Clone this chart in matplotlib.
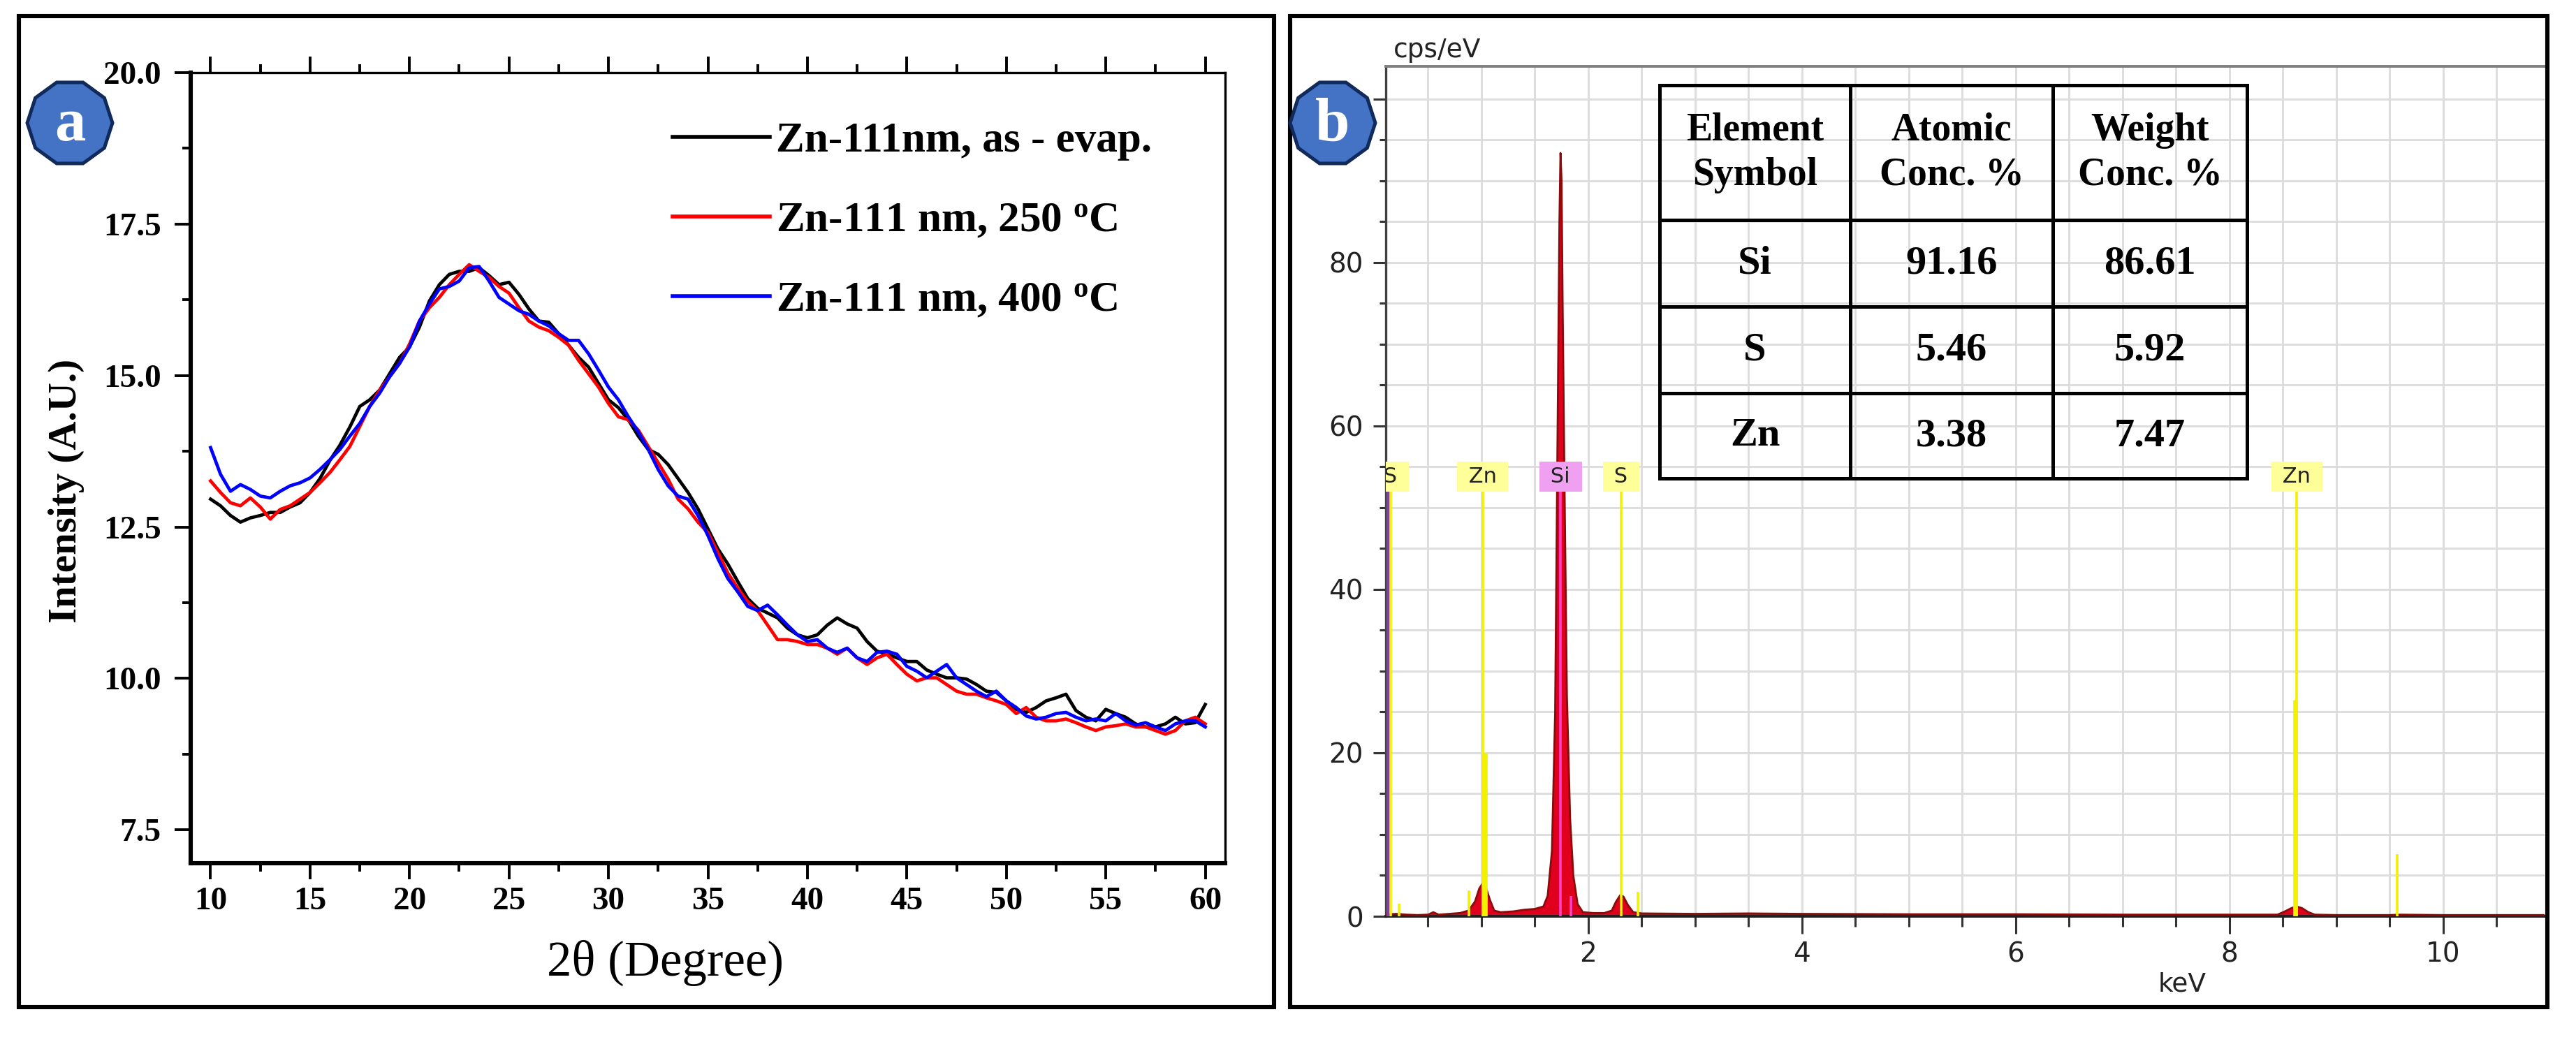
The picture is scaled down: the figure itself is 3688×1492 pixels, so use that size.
import numpy as np
import matplotlib
matplotlib.use("Agg")
import matplotlib.pyplot as plt
from matplotlib.patches import Rectangle, RegularPolygon
from matplotlib.ticker import MultipleLocator

plt.rcParams.update({
    "font.family": "Liberation Serif",
    "mathtext.fontset": "custom",
    "mathtext.rm": "Liberation Serif:bold",
    "mathtext.it": "Liberation Serif:bold",
})

W, H = 3688, 1492

# ── panel a: XRD, values read every 0.5 degree ─────────────────────────────
theta = np.arange(10.0, 60.01, 0.5)

xrd_asevap = [12.96, 12.85, 12.69, 12.58, 12.65, 12.69, 12.74, 12.74, 12.83, 12.90,
              13.07, 13.30, 13.60, 13.85, 14.15, 14.49, 14.60, 14.76, 15.03, 15.30,
              15.47, 15.80, 16.23, 16.50, 16.67, 16.72, 16.72, 16.78, 16.65, 16.50,
              16.54, 16.34, 16.10, 15.90, 15.88, 15.69, 15.50, 15.30, 15.14, 14.87,
              14.60, 14.47, 14.27, 14.00, 13.78, 13.70, 13.53, 13.30, 13.07, 12.80,
              12.47, 12.14, 11.89, 11.60, 11.32, 11.16, 11.08, 11.00, 10.83, 10.72,
              10.67, 10.72, 10.88, 11.00, 10.90, 10.83, 10.61, 10.45, 10.40, 10.34,
              10.28, 10.28, 10.14, 10.07, 10.01, 10.01, 9.99, 9.90, 9.79, 9.77,
              9.63, 9.49, 9.44, 9.52, 9.63, 9.68, 9.74, 9.47, 9.36, 9.30,
              9.49, 9.42, 9.36, 9.25, 9.20, 9.20, 9.25, 9.36, 9.25, 9.27,
              9.57]
xrd_250 = [13.26, 13.07, 12.90, 12.85, 12.98, 12.83, 12.63, 12.79, 12.85, 12.96,
           13.07, 13.23, 13.40, 13.61, 13.83, 14.16, 14.49, 14.76, 14.98, 15.20,
           15.52, 15.90, 16.12, 16.29, 16.50, 16.67, 16.83, 16.72, 16.62, 16.47,
           16.36, 16.12, 15.90, 15.80, 15.74, 15.63, 15.50, 15.25, 15.03, 14.81,
           14.54, 14.32, 14.27, 14.10, 13.83, 13.56, 13.29, 12.96, 12.80, 12.58,
           12.41, 12.08, 11.74, 11.49, 11.27, 11.12, 10.88, 10.64, 10.64, 10.61,
           10.56, 10.56, 10.50, 10.40, 10.50, 10.34, 10.23, 10.34, 10.40, 10.23,
           10.07, 9.96, 10.01, 10.01, 9.90, 9.79, 9.74, 9.74, 9.68, 9.63,
           9.57, 9.42, 9.52, 9.36, 9.30, 9.30, 9.33, 9.27, 9.20, 9.14,
           9.20, 9.22, 9.25, 9.20, 9.20, 9.14, 9.08, 9.14, 9.30, 9.36,
           9.25]
xrd_400 = [13.81, 13.37, 13.09, 13.20, 13.12, 13.01, 12.98, 13.09, 13.18, 13.23,
           13.31, 13.45, 13.61, 13.78, 14.00, 14.21, 14.49, 14.71, 14.98, 15.20,
           15.47, 15.90, 16.18, 16.43, 16.47, 16.56, 16.78, 16.80, 16.56, 16.29,
           16.18, 16.07, 16.01, 15.90, 15.82, 15.69, 15.58, 15.58, 15.36, 15.09,
           14.81, 14.60, 14.32, 14.07, 13.78, 13.45, 13.18, 13.01, 12.96, 12.69,
           12.36, 11.98, 11.65, 11.43, 11.19, 11.12, 11.21, 11.05, 10.88, 10.72,
           10.61, 10.64, 10.50, 10.43, 10.50, 10.34, 10.28, 10.43, 10.45, 10.40,
           10.20, 10.12, 10.01, 10.12, 10.23, 10.01, 9.90, 9.79, 9.70, 9.79,
           9.63, 9.52, 9.38, 9.33, 9.36, 9.42, 9.44, 9.36, 9.30, 9.33,
           9.30, 9.42, 9.30, 9.23, 9.27, 9.20, 9.14, 9.25, 9.30, 9.30,
           9.20]
xrd_labels = ["Zn-111nm, as - evap.",
              r"Zn-111 nm, 250 $^{\mathrm{o}}$C",
              r"Zn-111 nm, 400 $^{\mathrm{o}}$C"]
xrd_colors = ["black", "#ff0000", "#0000ff"]

# ── panel b: EDS spectrum (keV, cps/eV) ────────────────────────────────────
eds_kev = [0.10, 0.20, 0.30, 0.40, 0.50, 0.55, 0.60, 0.70, 0.80, 0.88,
           0.94, 0.98, 1.01, 1.04, 1.08, 1.12, 1.18, 1.30, 1.40, 1.50,
           1.58, 1.62, 1.66, 1.69, 1.71, 1.73, 1.74, 1.75, 1.76, 1.78,
           1.80, 1.83, 1.86, 1.90, 1.95, 2.05, 2.15, 2.22, 2.26, 2.30,
           2.33, 2.37, 2.42, 2.50, 3.00, 3.50, 4.00, 5.00, 6.00, 7.00,
           8.00, 8.45, 8.52, 8.58, 8.63, 8.68, 8.74, 8.80, 9.00, 9.50,
           9.60, 10.00, 10.95]
eds_cps = [0.2, 0.3, 0.2, 0.15, 0.2, 0.5, 0.2, 0.3, 0.4, 0.7,
           1.8, 3.4, 4.0, 3.6, 2.0, 0.7, 0.5, 0.6, 0.8, 0.9,
           1.2, 2.5, 8.0, 25.0, 55.0, 85.0, 93.4, 90.0, 75.0, 50.0,
           27.0, 12.0, 5.0, 1.5, 0.5, 0.4, 0.4, 0.7, 1.8, 2.6,
           2.4, 1.4, 0.5, 0.35, 0.3, 0.35, 0.3, 0.25, 0.25, 0.2,
           0.2, 0.2, 0.6, 1.0, 1.2, 1.0, 0.5, 0.2, 0.15, 0.15,
           0.2, 0.15, 0.15]

# element marker lines
marker_kev = [0.149, 0.23, 0.884, 1.012, 1.034, 1.740, 1.836, 2.307, 2.464, 8.630, 8.615, 9.572]
marker_top = [52, 1.5, 3.2, 52, 20, 52, 2.5, 52, 3.0, 52, 26.5, 7.6]
marker_elem = ["S", "S", "Zn", "Zn", "Zn", "Si", "Si", "S", "S", "Zn", "Zn", "Zn"]
label_elem = ["S", "Zn", "Si", "S", "Zn"]
label_kev = [0.149, 1.012, 1.740, 2.307, 8.630]

table_header = ["Element\nSymbol", "Atomic\nConc. %", "Weight\nConc. %"]
table_elem = ["Si", "S", "Zn"]
atomic_pct = ["91.16", "5.46", "3.38"]
weight_pct = ["86.61", "5.92", "7.47"]


def px_axes(l, t, r, b):
    return [l / W, 1 - b / H, (r - l) / W, (b - t) / H]


fig = plt.figure(figsize=(W / 200, H / 200), dpi=200)

# ── panel a ────────────────────────────────────────────────────────────────
ax = fig.add_axes(px_axes(273, 104, 1754, 1236))
for ys, col, lab in zip([xrd_asevap, xrd_250, xrd_400], xrd_colors, xrd_labels):
    ax.plot(theta, ys, color=col, lw=1.7, label=lab)
ax.set_xlim(9.0, 61.0)
ax.set_ylim(6.95, 20.0)
ax.xaxis.set_major_locator(MultipleLocator(5))
ax.xaxis.set_minor_locator(MultipleLocator(2.5))
ax.yaxis.set_major_locator(MultipleLocator(2.5))
ax.yaxis.set_minor_locator(MultipleLocator(1.25))
ax.yaxis.set_major_formatter(matplotlib.ticker.FormatStrFormatter("%.1f"))
ax.tick_params(which="both", direction="out", top=True, right=False, width=1.4)
ax.tick_params(which="major", length=8.3)
ax.tick_params(which="minor", length=4.3)
ax.tick_params(axis="y", which="major", pad=7)
ax.tick_params(axis="x", which="major", pad=4)
for t in ax.get_xticklabels() + ax.get_yticklabels():
    t.set_fontsize(17)
    t.set_fontweight("bold")
ax.spines["left"].set_linewidth(2.2)
ax.spines["bottom"].set_linewidth(2.2)
ax.spines["top"].set_linewidth(1.2)
ax.spines["right"].set_linewidth(1.2)
ax.set_ylabel("Intensity (A.U.)", fontsize=20.5, fontweight="bold", va="center")
ax.yaxis.set_label_coords(-0.120, 0.471)
ax.set_xlabel("2θ (Degree)", fontsize=25.5, va="center")
ax.xaxis.set_label_coords(0.4585, -0.126)
leg = ax.legend(loc="upper left", bbox_to_anchor=(963 / W, 1 - 174 / H),
                bbox_transform=fig.transFigure, frameon=False,
                prop={"family": "Liberation Serif", "weight": "bold", "size": 22},
                handlelength=2.27, handletextpad=0.15, labelspacing=0.95,
                borderpad=0, borderaxespad=0)
for ln in leg.get_lines():
    ln.set_linewidth(2.0)

# ── panel b ────────────────────────────────────────────────────────────────
bx = fig.add_axes(px_axes(1984, 95, 3643, 1312))
bx.set_xlim(0.105, 10.95)
bx.set_ylim(0, 104)
bx.xaxis.set_major_locator(MultipleLocator(2))
bx.xaxis.set_minor_locator(MultipleLocator(0.5))
bx.yaxis.set_major_locator(MultipleLocator(20))
bx.yaxis.set_minor_locator(MultipleLocator(5))
bx.grid(which="both", color="#dcdcdc", lw=1.0, zorder=0)
bx.set_axisbelow(True)
bx.yaxis.set_major_formatter(
    matplotlib.ticker.FuncFormatter(lambda v, p: f"{v:.0f}" if v < 90 else ""))
bx.tick_params(which="both", direction="out", colors="#333333", width=1.1,
               labelsize=14, labelcolor="#222222")
bx.tick_params(axis="x", which="major", length=9, pad=3.6)
bx.tick_params(axis="x", which="minor", length=5.4)
bx.tick_params(axis="y", which="major", length=6.5, pad=5)
bx.tick_params(axis="y", which="minor", length=3.2)
for t in bx.get_xticklabels() + bx.get_yticklabels():
    t.set_fontfamily("DejaVu Sans")
bx.spines["right"].set_visible(False)
bx.spines["top"].set_color("#808080")
bx.spines["top"].set_linewidth(1.4)
bx.spines["left"].set_color("#404040")
bx.spines["left"].set_linewidth(1.2)
bx.spines["bottom"].set_color("#202020")
bx.spines["bottom"].set_linewidth(1.4)

bx.fill_between(eds_kev, eds_cps, color="#e0001e", lw=0, zorder=2)
bx.plot(eds_kev, eds_cps, color="#8b0a0a", lw=1.0, zorder=3)

mcol = ["#ff40c8" if e == "Si" else "#f2f200" for e in marker_elem]
mlw = [2.4 if top in (20, 26.5) else 1.3 for top in marker_top]
bx.vlines(marker_kev, 0, marker_top, colors=mcol, linewidths=mlw, zorder=4)
bx.vlines([0.125], 0, 52, colors="#8040a0", linewidths=1.6, zorder=4)
for el, kv in zip(label_elem, label_kev):
    fc = "#f0a0f0" if el == "Si" else "#ffff99"
    bx.text(kv, 53.8, f" {el} ", ha="center", va="center", fontsize=11,
            family="DejaVu Sans", color="#222222", zorder=5, clip_on=True,
            bbox=dict(boxstyle="square,pad=0.22", fc=fc, ec="none"))

bx.set_xlabel("keV", fontsize=13.5, family="DejaVu Sans", color="#222222", va="center")
bx.xaxis.set_label_coords(0.687, -0.0805)
bx.set_ylabel("cps/eV", fontsize=13.5, family="DejaVu Sans", color="#222222",
              rotation=0, ha="left", va="center")
bx.yaxis.set_label_coords(0.0066, 1.019)

cell_text = [[e, a, w] for e, a, w in zip(table_elem, atomic_pct, weight_pct)]
tab = bx.table(cellText=cell_text, colLabels=table_header, cellLoc="center",
               bbox=[0.2363, 0.5152, 0.5069, 0.4626], zorder=6)
tab.auto_set_font_size(False)
col_w = [273, 290, 278]
row_h = [193, 124, 124, 122]
for (r, c), cell in tab.get_celld().items():
    cell.set_width(col_w[c])
    cell.set_height(row_h[r])
    cell.set_linewidth(1.8)
    cell.set_edgecolor("black")
    cell.set_facecolor("none")
    txt = cell.get_text()
    txt.set_fontfamily("Liberation Serif")
    txt.set_fontweight("bold")
    txt.set_fontsize(20 if r == 0 else 21)
    txt.set_linespacing(1.3)
    txt.set_multialignment("center")

# ── frames and panel badges ────────────────────────────────────────────────
ov = fig.add_axes([0, 0, 1, 1], zorder=10)
ov.set_xlim(0, W)
ov.set_ylim(H, 0)
ov.axis("off")
for x0, x1 in [(27, 1824), (1847, 3647)]:
    ov.add_patch(Rectangle((x0, 23), x1 - x0, 1442 - 23, fill=False, ec="black", lw=2.2))
for cx, letter in [(100, "a"), (1908, "b")]:
    ov.add_patch(RegularPolygon((cx, 176), 10, radius=61, orientation=np.pi / 10,
                                fc="#4472c4", ec="#102a5c", lw=1.8))
    ov.text(cx, 180, letter, ha="center", va="center", color="white",
            fontsize=32, fontweight="bold", family="Liberation Serif")

fig.savefig("out.png", dpi=200)
